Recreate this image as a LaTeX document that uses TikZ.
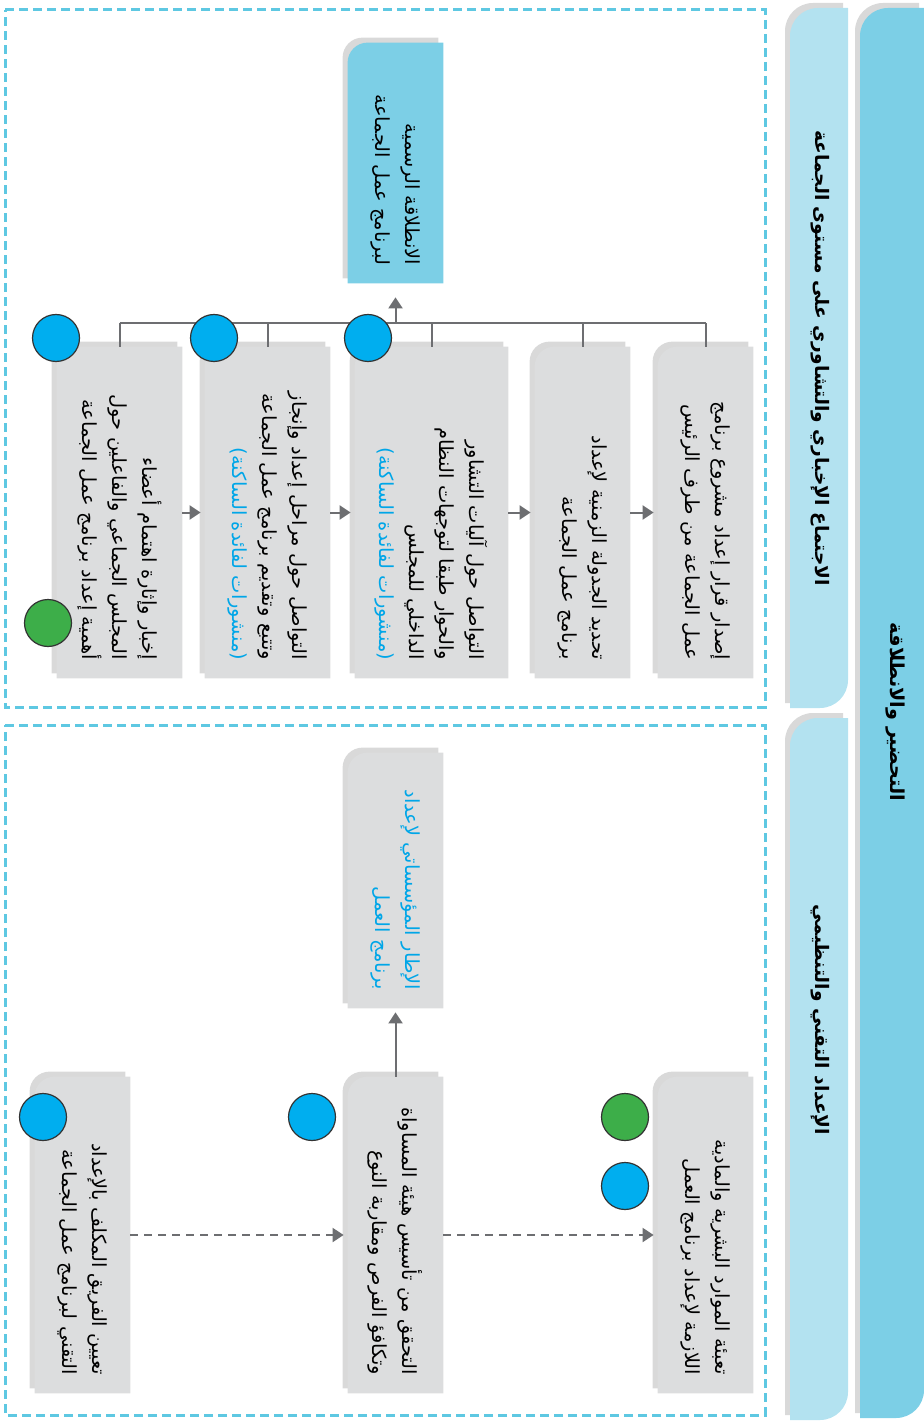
\documentclass[tikz,border=0pt]{standalone}
\usepackage{fontspec}
\newfontfamily\arabicfont[Script=Arabic]{DejaVu Sans}
\TeXXeTstate=1
\usetikzlibrary{arrows.meta,shadows,backgrounds}

\definecolor{boxgrey}{HTML}{DCDDDE}
\definecolor{tabblue}{HTML}{7CCFE6}
\definecolor{tablight}{HTML}{B3E2F0}
\definecolor{framecyan}{HTML}{5EC8E2}
\definecolor{linegrey}{HTML}{6D6E71}
\definecolor{dotblue}{HTML}{00AEEF}
\definecolor{dotgreen}{HTML}{3DAE49}
\definecolor{textblue}{HTML}{00A6E8}

\newcommand{\artext}[1]{\beginR #1\endR}

\tikzset{
	card/.style={inner xsep=9pt, inner ysep=0pt, text width=#1, align=right,
		font=\arabicfont\fontsize{9.7}{15}\selectfont},
	dot/.style={circle, draw=black!80, line width=0.6pt, minimum size=23.5pt, inner sep=0pt},
	link/.style={draw=linegrey, line width=1pt},
	flow/.style={link, -{Triangle[length=5.5pt,width=7pt]}, shorten >=2pt},
	dflow/.style={flow, dash pattern=on 4pt off 3pt},
	frame/.style={draw=framecyan, line width=1.5pt, dash pattern=on 4.5pt off 2.5pt},
	headtext/.style={font=\arabicfont\bfseries\fontsize{9.3}{12}\selectfont},
	softshadow/.style={drop shadow={shadow xshift=-2.5pt, shadow yshift=2.5pt, opacity=.3}},
}

\begin{document}
\begin{tikzpicture}[x=0.5pt, y=0.5pt, rotate=-90, transform shape]
	\useasboundingbox (0,0) rectangle (1422,924);

	% header strips
	\fill[tabblue, softshadow] (8,924) [rounded corners=14pt] -- (8,860) [sharp corners] -- (1418,860) [rounded corners=14pt] -- (1418,924) [sharp corners] -- cycle;
	\fill[tablight, softshadow] (8,848) [rounded corners=14pt] -- (708,848) [sharp corners] -- (708,790) [rounded corners=14pt] -- (8,790) [sharp corners] -- cycle;
	\fill[tablight, softshadow] (718,848) [rounded corners=14pt] -- (1420,848) [sharp corners] -- (1420,790) [rounded corners=14pt] -- (718,790) [sharp corners] -- cycle;
	\node[headtext, font=\arabicfont\bfseries\fontsize{9.6}{12}\selectfont] (title) at (712,895) {\artext{التحضير والانطلاقة}};
	\node[headtext] (meeting) at (358,820) {\artext{الاجتماع الإخباري والتشاوري على مستوى الجماعة}};
	\node[headtext] (technical) at (1020,820) {\artext{الإعداد التقني والتنظيمي}};

	% dashed frames
	\draw[frame] (10,5) rectangle (707,765);
	\draw[frame] (725,5) rectangle (1415,765);

	% meeting section
	\node[card=147.5pt, minimum height=47.5pt] (a) at (512.5,705.5)
		{\artext{إصدار قرار إعداد مشروع برنامج}\\\artext{عمل الجماعة من طرف الرئيس}};
	\node[card=147.5pt, minimum height=47.5pt] (b) at (512.5,582.5)
		{\artext{تحديد الجدولة الزمنية لإعداد}\\\artext{برنامج عمل الجماعة}};
	\node[card=147.5pt, minimum height=76.5pt] (c) at (512.5,431.5)
		{\artext{التواصل حول آليات التشاور}\\\artext{والحوار طبقا لتوجهات النظام}\\\artext{الداخلي للمجلس}\\{\color{textblue}\artext{(منشورات لفائدة الساكنة)}}};
	\node[card=147.5pt, minimum height=62.5pt] (d) at (512.5,267.5)
		{\artext{التواصل حول مراحل إعداد وإنجاز}\\\artext{وتتبع وتقديم برنامج عمل الجماعة}\\{\color{textblue}\artext{(منشورات لفائدة الساكنة)}}};
	\node[card=147.5pt, minimum height=62.5pt] (e) at (512.5,119.5)
		{\artext{إخبار وإثارة اهتمام أعضاء}\\\artext{المجلس الجماعي والفاعلين حول}\\\artext{أهمية إعداد برنامج عمل الجماعة}};
	\node[card=102pt, minimum height=47.5pt] (j) at (163,395.5)
		{\artext{الانطلاقة الرسمية}\\\artext{لبرنامج عمل الجماعة}};

	% technical section
	\node[card=140pt, minimum height=47.5pt] (f) at (1235,705.5)
		{\artext{تعبئة الموارد البشرية والمادية}\\\artext{اللازمة لإعداد برنامج العمل}};
	\node[card=140pt, minimum height=47.5pt] (g) at (1235,395.5)
		{\artext{التحقق من تأسيس هيئة المساواة}\\\artext{وتكافؤ الفرص ومقاربة النوع}};
	\node[card=140pt, minimum height=47.5pt] (h) at (1235,82.5)
		{\artext{تعيين الفريق المكلف بالإعداد}\\\artext{التقني لبرنامج عمل الجماعة}};
	\node[card=109.5pt, minimum height=47.5pt, text=textblue] (i) at (880.5,395.5)
		{\artext{الإطار المؤسساتي لإعداد}\\\artext{برنامج العمل}};

	% card backgrounds
	\begin{scope}[on background layer]
		\foreach \n/\c in {a/boxgrey,b/boxgrey,c/boxgrey,d/boxgrey,e/boxgrey,f/boxgrey,g/boxgrey,h/boxgrey,i/boxgrey,j/tabblue}
			\fill[\c, softshadow] (\n.north west) -- (\n.north east) -- (\n.south east) [rounded corners=10pt] -- (\n.south west) [sharp corners] -- cycle;
	\end{scope}

	% connectors
	\draw[flow] (e) -- (d);
	\draw[flow] (d) -- (c);
	\draw[flow] (c) -- (b);
	\draw[flow] (b) -- (a);
	\foreach \n in {a,b,c,d,e}
		\draw[link] (\n.west) -- ++(-24,0) coordinate (\n0);
	\draw[link] (e0) -- (a0);
	\coordinate (bar) at (323,395.5);
	\draw[flow, shorten >=7pt] (bar) -- (j);
	\draw[flow] (g) -- (i);
	\draw[dflow] (h) -- (g);
	\draw[dflow] (g) -- (f);

	% markers
	\node[dot, fill=dotblue] (dota) at (338,56) {};
	\node[dot, fill=dotblue] (dotb) at (338,214) {};
	\node[dot, fill=dotblue] (dotc) at (338,368) {};
	\node[dot, fill=dotgreen] (dotd) at (623,48) {};
	\node[dot, fill=dotgreen] (dote) at (1117,625) {};
	\node[dot, fill=dotblue] (dotf) at (1186,625) {};
	\node[dot, fill=dotblue] (dotg) at (1117,312) {};
	\node[dot, fill=dotblue] (doth) at (1117,43) {};
\end{tikzpicture}
\end{document}
